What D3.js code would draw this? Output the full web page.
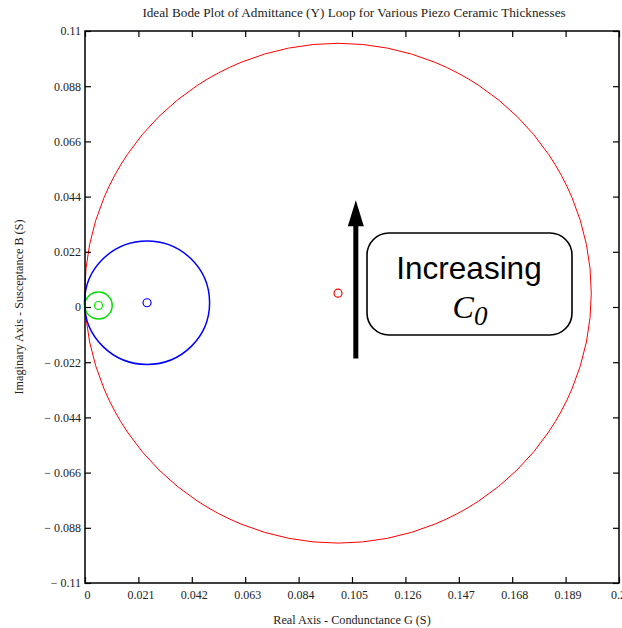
<!DOCTYPE html>
<html>
<head>
<meta charset="utf-8">
<script src="https://cdn.jsdelivr.net/npm/d3@7"></script>
<style>
  html, body { margin: 0; padding: 0; background: #fff; overflow: hidden; }
  svg { display: block; }
</style>
</head>
<body>
<svg id="chart" width="622" height="628"></svg>
<script>
// ---- data ----
const seriesNames = ["Thick ceramic", "Medium ceramic", "Thin ceramic"];
const seriesColors = ["#ff0000", "#0000ff", "#00e000"];
const centerG = [0.0995, 0.0244, 0.0053];   // loop centre, conductance (S)
const centerB = [0.0055, 0.0017, 0.0006];   // loop centre, susceptance (S)
const loopRadius = [0.0996, 0.0246, 0.0054]; // loop radius (S)
const lineWidths = [1, 1.5, 1.5];

const xTicks = [0, 0.021, 0.042, 0.063, 0.084, 0.105, 0.126, 0.147, 0.168, 0.189, 0.21];
const xTickLabels = ["0", "0.021", "0.042", "0.063", "0.084", "0.105", "0.126", "0.147", "0.168", "0.189", "0.21"];
const yTicks = [0.11, 0.088, 0.066, 0.044, 0.022, 0, -0.022, -0.044, -0.066, -0.088, -0.11];
const yTickLabels = ["0.11", "0.088", "0.066", "0.044", "0.022", "0", "\u2212 0.022", "\u2212 0.044", "\u2212 0.066", "\u2212 0.088", "\u2212 0.11"];

const titleText = "Ideal Bode Plot of Admittance (Y) Loop for Various Piezo Ceramic Thicknesses";
const xLabelText = "Real Axis - Condunctance G (S)";
const yLabelText = "Imaginary Axis - Susceptance B (S)";

// annotation (in data coordinates)
const arrowG = 0.1065;
const arrowFromB = -0.0205;
const arrowToB = 0.0425;

// ---- layout ----
const svg = d3.select("#chart");
const mLeft = 85, mRight = 619, mTop = 31, mBottom = 583;
const x = d3.scaleLinear().domain([0, 0.21]).range([mLeft, mRight]);
const y = d3.scaleLinear().domain([-0.11, 0.11]).range([mBottom, mTop]);
const serif = "'Liberation Serif', 'Times New Roman', serif";

// title
svg.append("text").attr("x", 354).attr("y", 17).attr("text-anchor", "middle")
  .attr("font-family", serif).attr("font-size", 13.2).attr("fill", "#222").text(titleText);

// loops
const plot = svg.append("g");
seriesNames.forEach((name, i) => {
  plot.append("ellipse")
    .attr("cx", x(centerG[i])).attr("cy", y(centerB[i]))
    .attr("rx", x(centerG[i] + loopRadius[i]) - x(centerG[i]))
    .attr("ry", y(centerB[i]) - y(centerB[i] + loopRadius[i]))
    .attr("fill", "none").attr("stroke", seriesColors[i]).attr("stroke-width", lineWidths[i]);
  plot.append("circle")
    .attr("cx", x(centerG[i])).attr("cy", y(centerB[i])).attr("r", 4)
    .attr("fill", "none").attr("stroke", seriesColors[i]).attr("stroke-width", 1.2);
});

// frame
svg.append("rect").attr("x", mLeft).attr("y", mTop).attr("width", mRight - mLeft).attr("height", mBottom - mTop)
  .attr("fill", "none").attr("stroke", "#000").attr("stroke-width", 1.5);

// axes with inward ticks
const tickLen = 6;
const xb = svg.append("g").attr("transform", `translate(0,${mBottom})`)
  .call(d3.axisBottom(x).tickValues(xTicks).tickSize(-tickLen).tickSizeOuter(0)
    .tickFormat((d, i) => xTickLabels[i]).tickPadding(tickLen + 1));
const xt = svg.append("g").attr("transform", `translate(0,${mTop})`)
  .call(d3.axisTop(x).tickValues(xTicks).tickSize(-tickLen).tickSizeOuter(0).tickFormat(""));
const yl = svg.append("g").attr("transform", `translate(${mLeft},0)`)
  .call(d3.axisLeft(y).tickValues(yTicks).tickSize(-tickLen).tickSizeOuter(0)
    .tickFormat((d, i) => yTickLabels[i]).tickPadding(4));
const yr = svg.append("g").attr("transform", `translate(${mRight},0)`)
  .call(d3.axisRight(y).tickValues(yTicks).tickSize(-tickLen).tickSizeOuter(0).tickFormat(""));
[xb, xt, yl, yr].forEach(g => {
  g.select(".domain").remove();
  g.selectAll("line").attr("stroke", "#000").attr("stroke-width", 1.2);
  g.selectAll("text").attr("font-family", serif).attr("font-size", 12).attr("fill", "#222");
});
xb.selectAll("text").attr("dx", 2);

// axis titles
svg.append("text").attr("x", 352).attr("y", 624).attr("text-anchor", "middle")
  .attr("font-family", serif).attr("font-size", 12.2).attr("fill", "#222").text(xLabelText);
svg.append("text").attr("transform", `translate(23,${(mTop + mBottom) / 2}) rotate(-90)`)
  .attr("text-anchor", "middle")
  .attr("font-family", serif).attr("font-size", 12.2).attr("fill", "#222").text(yLabelText);

// annotation arrow
const ax = x(arrowG), ay0 = y(arrowFromB), ay1 = y(arrowToB);
svg.append("line").attr("x1", ax).attr("x2", ax).attr("y1", ay0).attr("y2", ay1 + 20)
  .attr("stroke", "#000").attr("stroke-width", 5);
svg.append("path")
  .attr("d", `M${ax},${ay1} L${ax - 8},${ay1 + 26} L${ax + 8},${ay1 + 26} Z`)
  .attr("fill", "#000");

// annotation box
svg.append("rect").attr("x", 367).attr("y", 233).attr("width", 205).attr("height", 102)
  .attr("rx", 22).attr("ry", 22)
  .attr("fill", "#fff").attr("stroke", "#000").attr("stroke-width", 1.6);
svg.append("text").attr("x", 469).attr("y", 279).attr("text-anchor", "middle")
  .attr("font-family", "'Liberation Sans', Arial, sans-serif").attr("font-size", 31.5).attr("fill", "#000")
  .text("Increasing");
const c0 = svg.append("text").attr("x", 470).attr("y", 318).attr("text-anchor", "middle")
  .attr("font-family", serif).attr("font-style", "italic").attr("fill", "#000");
c0.append("tspan").attr("font-size", 32).text("C");
c0.append("tspan").attr("font-size", 27).attr("dy", 7).text("0");
</script>
</body>
</html>
